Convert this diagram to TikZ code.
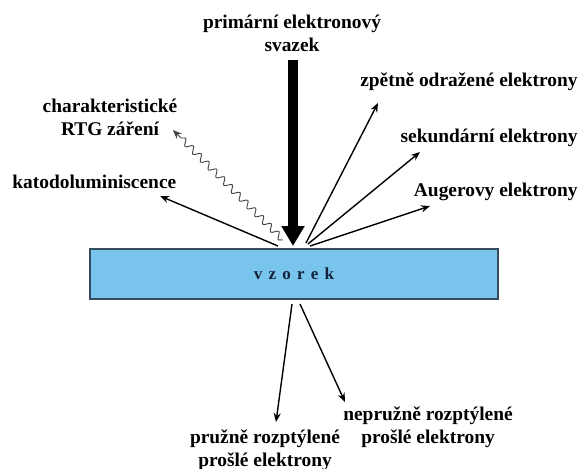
\documentclass[tikz,border=0pt]{standalone}
\usepackage{fontspec}
\setmainfont{Liberation Serif}
\usetikzlibrary{arrows.meta,decorations.pathmorphing}
\definecolor{vzorekmodra}{RGB}{120,196,236}
\definecolor{vzorekokraj}{RGB}{55,75,95}
\definecolor{vzoreknapis}{RGB}{20,35,60}
\tikzset{
  popis/.style={font=\bfseries\fontsize{9.7}{11.5}\selectfont, align=center, inner sep=0pt},
  tenka/.style={line width=0.7pt, -{Stealth[length=4.5pt,width=3.6pt]}},
  primarni/.style={line width=4.8pt, -{Triangle[length=10pt,width=11pt]}},
  vlnka/.style={line width=0.45pt, draw=black!75, -{Stealth[length=4.5pt,width=3.6pt]},
    decorate, decoration={snake,amplitude=1.6pt,segment length=5.5pt,post length=4pt}}
}
\newcommand{\rozpal}{\hspace{3.1pt}}

\begin{document}
\begin{tikzpicture}[x=0.5pt,y=-0.5pt]
		%%%%% START %%%%%
		\useasboundingbox (0,0) rectangle (583,468);
		
		% vzorek
		\node[draw=vzorekokraj, fill=vzorekmodra, line width=0.6pt, minimum width=204pt, minimum height=25pt, inner sep=0pt,
		  text=vzoreknapis, font=\bfseries\fontsize{8.5}{9}\selectfont] (vzorek) at (294,274)
		  {v\rozpal z\rozpal o\rozpal r\rozpal e\rozpal k};
		
		% primarni svazek
		\node[popis] (svazek) at (292,33) {primární elektronový\\svazek};
		\coordinate (zdroj) at (293,60);
		\coordinate (dopad) at (293,246);
		\draw[primarni] (zdroj) -- (dopad);
		
		% popisky vpravo
		\node[popis, anchor=east] (zpetne) at (578,82) {zpětně odražené elektrony};
		\node[popis, anchor=east] (sekundarni) at (578,138) {sekundární elektrony};
		\node[popis, anchor=east] (auger) at (578,192) {Augerovy elektrony};
		
		% popisky vlevo
		\node[popis] (rtg) at (110,117) {charakteristické\\RTG záření};
		\node[popis, anchor=west] (katodo) at (12,182) {katodoluminiscence};
		
		% popisky dole
		\node[popis] (pruzne) at (265,450) {pružně rozptýlené\\prošlé elektrony};
		\node[popis] (nepruzne) at (428,427) {nepružně rozptýlené\\prošlé elektrony};
		
		% body vyletu
		\coordinate (v1) at (306,243);
		\coordinate (v2) at (308,244);
		\coordinate (v3) at (310,246);
		\coordinate (v4) at (278,246);
		\coordinate (v5) at (283,240);
		\coordinate (p1) at (292,304);
		\coordinate (p2) at (300,304);
		
		% konce sipek
		\coordinate (k1) at (378,103);
		\coordinate (k2) at (420,152);
		\coordinate (k3) at (430,206);
		\coordinate (k4) at (160,196);
		\coordinate (k5) at (173,130);
		\coordinate (k6) at (276,422);
		\coordinate (k7) at (345,402);
		
		\draw[tenka] (v1) -- (k1);
		\draw[tenka] (v2) -- (k2);
		\draw[tenka] (v3) -- (k3);
		\draw[tenka] (v4) -- (k4);
		\draw[vlnka] (v5) -- (k5);
		\draw[tenka] (p1) -- (k6);
		\draw[tenka] (p2) -- (k7);
		
		%%%%% END %%%%%
\end{tikzpicture}
\end{document}
